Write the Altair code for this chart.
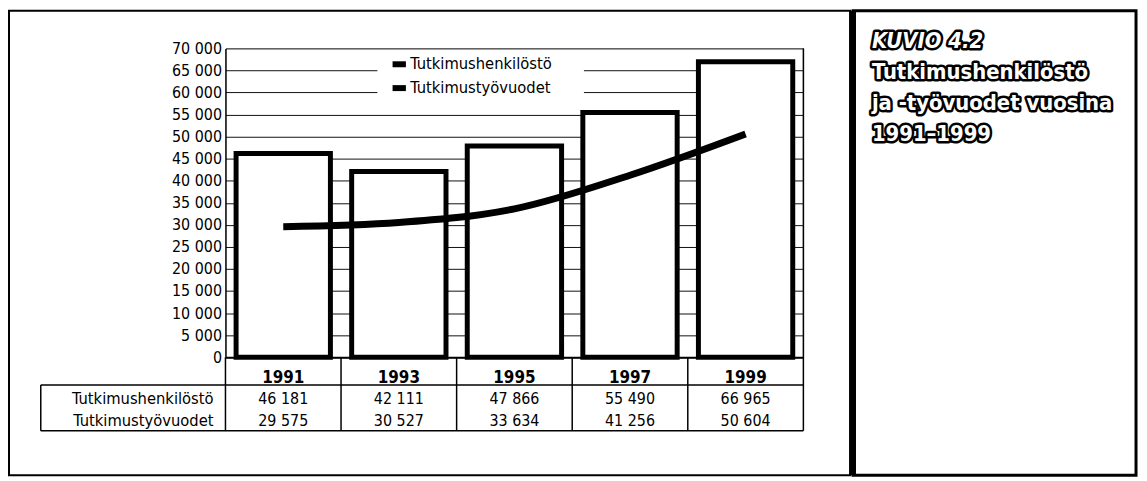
import altair as alt
import pandas as pd

# ---- data ----
years = ["1991", "1993", "1995", "1997", "1999"]
henkilosto = [46181, 42111, 47866, 55490, 66965]      # bars
tyovuodet = [29575, 30527, 33634, 41256, 50604]       # line
series_names = ["Tutkimushenkilöstö", "Tutkimustyövuodet"]
y_ticks = list(range(0, 70001, 5000))
title_head = "KUVIO 4.2"
title_lines = ["Tutkimushenkilöstö", "ja -työvuodet vuosina", "1991–1999"]


def fi(v):
    return f"{v:,}".replace(",", " ")


df = pd.DataFrame({
    "year": years,
    "henk": henkilosto,
    "tyo": tyovuodet,
    "henk_txt": [fi(v) for v in henkilosto],
    "tyo_txt": [fi(v) for v in tyovuodet],
    "series": [series_names[1]] * len(years),
})

FONT = "DejaVu Sans Condensed, Liberation Sans Narrow, sans-serif"
W, H = 582, 311
one = alt.Data(values=[{"a": 1}])

xband = alt.Scale(domain=years, paddingInner=0, paddingOuter=0)
yscale = alt.Scale(domain=[0, 70000], nice=False, zero=True)
yaxis = alt.Axis(values=y_ticks, tickCount=15, title=None, grid=True, gridColor="#111",
                 gridWidth=1, ticks=False, domainColor="black", domainWidth=1.5,
                 labelExpr="replace(format(datum.value, ','), ',', ' ')",
                 labelFont=FONT, labelFontSize=16, labelColor="black",
                 labelPadding=4, labelOverlap=False)
xaxis = alt.Axis(labels=False, ticks=False, title=None, domainColor="black",
                 domainWidth=2, grid=False)

base = alt.Chart(df)

# frames (decoration)
outer = alt.Chart(one).mark_rect(fill="transparent", stroke="black", strokeWidth=2).encode(
    x=alt.value(-218), x2=alt.value(629), y=alt.value(-38), y2=alt.value(430))
panel = alt.Chart(one).mark_rect(fill="white", stroke="black", strokeWidth=3).encode(
    x=alt.value(632), x2=alt.value(917), y=alt.value(-38), y2=alt.value(430))
panel_left = alt.Chart(one).mark_rule(stroke="black", strokeWidth=6).encode(
    x=alt.value(632), y=alt.value(-38), y2=alt.value(430))

# bars with y axis + grid
bars = base.mark_bar(width=95, fill="white", stroke="black", strokeWidth=5).encode(
    x=alt.X("year:N", scale=xband, sort=years, axis=xaxis),
    y=alt.Y("henk:Q", scale=yscale, axis=yaxis),
)

legend_bg = alt.Chart(one).mark_rect(fill="white").encode(
    x=alt.value(153), x2=alt.value(361), y=alt.value(6), y2=alt.value(53))

line = base.mark_line(strokeWidth=7, interpolate="monotone", strokeCap="butt").encode(
    x=alt.X("year:N", scale=xband, sort=years, axis=xaxis),
    y=alt.Y("tyo:Q", scale=yscale, axis=yaxis),
    stroke=alt.Stroke("series:N",
                      scale=alt.Scale(domain=series_names, range=["black", "black"]),
                      legend=alt.Legend(title=None, orient="none", legendX=165, legendY=6,
                                        labelFont=FONT, labelFontSize=16.5, labelColor="black",
                                        symbolType="stroke", symbolSize=180,
                                        symbolStrokeWidth=6, labelOffset=1, rowPadding=0,
                                        padding=0, labelLimit=400)),
)

# table grid
right_edge = alt.Chart(one).mark_rule(stroke="black", strokeWidth=1.5).encode(
    x=alt.value(582), y=alt.value(0), y2=alt.value(385))
col_lines = base.mark_rule(stroke="black", strokeWidth=1.5).encode(
    x=alt.X("year:N", scale=xband, sort=years, bandPosition=0),
    y=alt.value(311), y2=alt.value(385))
hline1 = alt.Chart(one).mark_rule(stroke="black", strokeWidth=1.5).encode(
    x=alt.value(-186), x2=alt.value(582), y=alt.value(339))
hline2 = alt.Chart(one).mark_rule(stroke="black", strokeWidth=1.5).encode(
    x=alt.value(-186), x2=alt.value(582), y=alt.value(385))
vleft = alt.Chart(one).mark_rule(stroke="black", strokeWidth=1.5).encode(
    x=alt.value(-186), y=alt.value(339), y2=alt.value(385))

year_txt = base.mark_text(font=FONT, fontSize=17, fontWeight="bold", baseline="alphabetic",
                          color="black").encode(
    x=alt.X("year:N", scale=xband, sort=years), y=alt.value(337), text="year:N")
row1 = base.mark_text(font=FONT, fontSize=16, baseline="alphabetic", color="black").encode(
    x=alt.X("year:N", scale=xband, sort=years), y=alt.value(358), text="henk_txt:N")
row2 = base.mark_text(font=FONT, fontSize=16, baseline="alphabetic", color="black").encode(
    x=alt.X("year:N", scale=xband, sort=years), y=alt.value(380), text="tyo_txt:N")
lab1 = alt.Chart(one).mark_text(font=FONT, fontSize=16.5, align="right", baseline="alphabetic",
                                color="black", text=series_names[0]).encode(
    x=alt.value(-12), y=alt.value(358))
lab2 = alt.Chart(one).mark_text(font=FONT, fontSize=16.5, align="right", baseline="alphabetic",
                                color="black", text=series_names[1]).encode(
    x=alt.value(-12), y=alt.value(380))


# panel title with halo effect
def title_layers(text, y, italic):
    kw = dict(font=FONT, fontSize=22, fontWeight="bold", align="left",
              baseline="alphabetic", text=text, lineHeight=31)
    if italic:
        kw["fontStyle"] = "italic"
    halo = alt.Chart(one).mark_text(fill="black", stroke="black", strokeWidth=5,
                                    strokeJoin="round", **kw).encode(
        x=alt.value(651), y=alt.value(y))
    face = alt.Chart(one).mark_text(fill="white", **kw).encode(
        x=alt.value(651), y=alt.value(y))
    return [halo, face]


t1 = title_layers(title_head, 0, True)
t2 = title_layers(title_lines, 31, False)

chart = alt.layer(
    outer, panel, panel_left, bars, legend_bg, line,
    right_edge, col_lines, hline1, hline2, vleft,
    year_txt, row1, row2, lab1, lab2, *t1, *t2,
).resolve_axis(y="shared").properties(
    width=W, height=H,
    autosize=alt.AutoSizeParams(type="none"),
    padding={"left": 219, "top": 39, "right": 338, "bottom": 122},
).configure_view(stroke=None).configure(background="white")

chart.save("out.html", embed_options={"renderer": "svg", "actions": False})
